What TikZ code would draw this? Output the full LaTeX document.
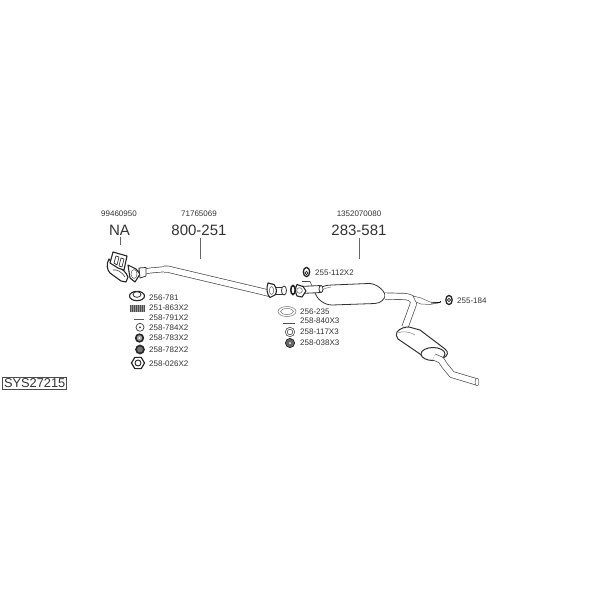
\documentclass[tikz,border=0pt]{standalone}
\usepackage{fontspec}
\setmainfont{Liberation Sans}
\usetikzlibrary{shapes.geometric}
\definecolor{ink}{HTML}{333333}
\tikzset{
  tiny label/.style={font=\fontsize{8}{9}\selectfont,text=ink,inner sep=0pt},
  part label/.style={tiny label,anchor=west},
  big label/.style={font=\fontsize{15}{16}\selectfont,text=ink,inner sep=0pt},
  leader/.style={draw=black!60,line width=0.7pt},
  pipe/.style={draw=black!70,line width=0.7pt,double=white,double distance=5.6pt,line join=round},
  narrow pipe/.style={pipe,double distance=4.4pt},
  outline/.style={draw=black!80,line width=0.8pt,fill=white,line join=round},
  heavy outline/.style={draw=black!85,line width=1.1pt,fill=white,line join=round},
  thin outline/.style={draw=black!65,line width=0.5pt,fill=white,line join=round},
  dark/.style={draw=black!85,line width=1.2pt,fill=black!35},
}
\begin{document}
\begin{tikzpicture}[x=1pt,y=-1pt]
\useasboundingbox (0,0) rectangle (600,600);
\fill[white] (0,0) rectangle (600,600);

% numbers and leaders
\node[tiny label] (n1) at (119,214) {99460950};
\node[tiny label] (n2) at (199,214) {71765069};
\node[tiny label] (n3) at (359,214) {1352070080};
\node[big label] (na) at (119.5,230) {NA};
\node[big label] (p1) at (199,230) {800-251};
\node[big label] (p2) at (359,230) {283-581};
\coordinate (t1) at (120,245);
\coordinate (t2) at (200,259);
\coordinate (t3) at (359,259);
\draw[leader,shorten <=2pt] (na.south -| t1) -- (t1);
\draw[leader,shorten <=2pt] (p1.south -| t2) -- (t2);
\draw[leader,shorten <=2pt] (p2.south -| t3) -- (t3);

% manifold
\draw[heavy outline] (109,259) .. controls (106,264) and (107,270) .. (110,273) -- (121,281) -- (126,282) -- (128,277) .. controls (126,272) and (122,268) .. (116,266) -- cycle;
\draw[heavy outline] (113,252) -- (127,256) -- (124,270) -- (118,268) -- (110,263) -- cycle;
\draw[thin outline,draw=black!80,line width=0.7pt] (116,256) -- (119,257) -- (117,265) -- (114,263) -- cycle;
\draw[thin outline,draw=black!80,line width=0.7pt] (121,258) -- (124,259) -- (122,267) -- (119,266) -- cycle;
\draw[draw=black!75,line width=0.6pt] (113,270) .. controls (117,269) and (122,272) .. (125,277);

% front pipe
\draw[narrow pipe] (138,273) -- (150,270.5) -- (167,269);
\draw[pipe] (164,269.2) -- (168,269.2) -- (260,291) -- (270,293.5);
\draw[heavy outline] (128,265) -- (136,269) -- (140,274) -- (135,282) -- (130,278) -- cycle;
\draw[thin outline] (134,274) ellipse (3 and 4.5);
\draw[outline] (139,268) -- (146,267.5) -- (146,276) -- (140,278) -- cycle;
% joint flange
\draw[outline] (272,287) rectangle (284,294);
\draw[heavy outline] (268,283) -- (274,284.5) .. controls (277,288) and (277,293) .. (275,295) -- (270,297.5) .. controls (267,295) and (266,288) .. (268,283) -- cycle;
\draw[thin outline] (271.5,290.5) ellipse (2.2 and 4);
\draw[outline] (284,290.5) ellipse (2.5 and 4.5);

% front muffler and inlet
\draw[outline] (315,293) .. controls (318,287) and (325,285) .. (332,285) -- (368,283.5) .. controls (376,283) and (384,290) .. (385,295) .. controls (385,300) and (380,303) .. (375,303.5) -- (332,305) .. controls (324,305) and (317,299) .. (315,293) -- cycle;
\draw[draw=black!50,line width=0.5pt] (319,293) .. controls (322,289) and (326,288) .. (331,287);
\draw[dark,fill=white,line width=1.6pt] (293,290) ellipse (2.2 and 4.5);
\draw[outline] (300,286.5) -- (321,285.5) -- (321,292.5) -- (300,293.5) -- cycle;
\draw[outline] (321,289) ellipse (2 and 3.5);
\draw[heavy outline] (297,284.5) -- (303,286.5) -- (306,291) -- (302,297) -- (297,296) .. controls (295,292) and (295,288) .. (297,284.5) -- cycle;
\draw[thin outline] (299.5,290.5) circle (2.8);
\draw[draw=black!70,line width=0.6pt] (302,281.5) -- (310,281.5) -- (312,286);

% link pipe
\draw[pipe] (385,296) -- (404,296.5) .. controls (412,297) and (415,300) .. (413,305) -- (405,327);

% hanger
\draw[thin outline] (413,296) -- (421,298) -- (430,302) -- (440,302.5) -- (430,304.5) -- (421,304) -- (416,302) -- cycle;
\draw[draw=black,line width=0.8pt] (431,303) -- (440,302.5) -- (440.5,301);

% rear muffler
\draw[outline,line width=1pt] (397,332) .. controls (400,328) and (405,327) .. (409,327) -- (420,330) -- (445,349) .. controls (449,352) and (448,356) .. (443,358) -- (428,359) .. controls (425,358) and (423,357) .. (420,354) -- (398,339) .. controls (396,337) and (396,334) .. (397,332) -- cycle;
\draw[draw=black!50,line width=0.5pt] (398,333) .. controls (402,331) and (408,331) .. (415,335);
\draw[outline,line width=1pt] (433,354) ellipse (12 and 6.5);
\draw[pipe] (434,357) -- (441,360) -- (445,366) -- (452,374.5) -- (477,382);
\draw[thin outline] (477,382) ellipse (1.9 and 4);

% front kit
\node[part label] (l1) at (149,297.7) {256-781};
\node[part label] (l2) at (149,307.7) {251-863X2};
\node[part label] (l3) at (149,317.3) {258-791X2};
\node[part label] (l4) at (149,327.3) {258-784X2};
\node[part label] (l5) at (149,338) {258-783X2};
\node[part label] (l6) at (149,350) {258-782X2};
\node[part label] (l7) at (149,363.3) {258-026X2};
\draw[heavy outline] (137,296) ellipse (7.5 and 4.7);
\draw[outline] (137,294.5) ellipse (4 and 2.8);
\fill[black!40] (129.5,304.5) rectangle (144.5,311.5);
\foreach \i in {0,...,7}{\draw[black!70,line width=0.5pt] ({130.5+1.9*\i},304.5) -- ({130.5+1.9*\i},311.5);}
\draw[black!65,line width=1.2pt] (134,319.6) -- (144,319.6);
\draw[black!75,line width=0.7pt,fill=white] (140,327.3) circle (4);
\fill[black!80] (140,327.3) circle (1);
\draw[dark,line width=1.6pt] (139.5,338) circle (3.8);
\fill[white] (139.5,338) circle (1.2);
\draw[dark,line width=1.6pt,fill=black!55] (140,349.5) circle (4);
\node[regular polygon,regular polygon sides=6,draw=black!85,line width=1.2pt,fill=white,minimum size=13pt,inner sep=0pt] (hex) at (138,363) {};
\draw[black!85,line width=0.9pt] (138,363) circle (3);

% middle kit
\node[part label] (l8) at (315,273) {255-112X2};
\node[part label] (l9) at (300,312) {256-235};
\node[part label] (l10) at (300,320.7) {258-840X3};
\node[part label] (l11) at (300,332) {258-117X3};
\node[part label] (l12) at (300,342.3) {258-038X3};
\draw[black!85,line width=1.3pt,fill=white] (306.5,272) ellipse (3.2 and 4.6);
\draw[black!85,line width=0.8pt] (306.5,273) circle (1.6);
\draw[black!55,line width=0.5pt] (287,311.5) ellipse (9 and 5);
\draw[black!55,line width=0.5pt] (287,311.5) ellipse (6.5 and 3);
\draw[black!70,line width=1.2pt] (283,323.5) -- (295,323.5);
\draw[black!70,line width=0.6pt] (290,332) circle (4.7);
\draw[black!70,line width=0.6pt] (290,332) circle (2.8);
\draw[dark,line width=0.7pt,fill=black!60] (290,343) circle (4.6);
\fill[white] (290,343) circle (1);

% rear kit
\node[part label] (l13) at (457,301) {255-184};
\draw[black!85,line width=1.3pt,fill=white] (449,300) ellipse (3.2 and 4.6);
\draw[black!85,line width=0.8pt] (449,300) circle (1.6);

% reference box
\node[draw=black!70,line width=0.7pt,fill=white,font=\fontsize{12.8}{14}\selectfont,text=ink,minimum width=64pt,minimum height=12pt,inner sep=0pt] (box) at (34.7,383) {SYS27215};
\end{tikzpicture}
\end{document}
